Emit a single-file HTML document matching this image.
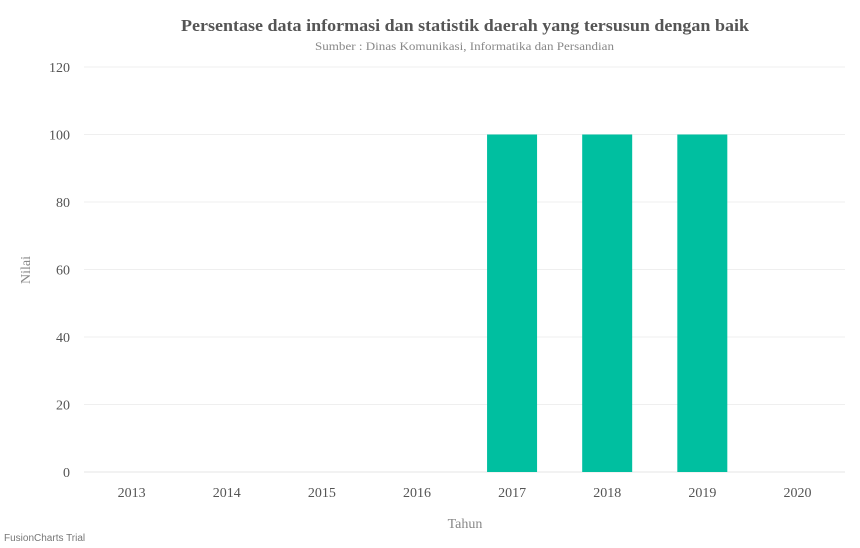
<!DOCTYPE html>
<html><head><meta charset="utf-8"><style>
body{margin:0;background:#fff;}
svg{display:block;font-family:"Liberation Serif",serif;}
</style></head><body>
<svg id="chart" width="860" height="548">
<text x="181" y="31" textLength="568" lengthAdjust="spacingAndGlyphs" font-size="17" font-weight="bold" fill="#555">Persentase data informasi dan statistik daerah yang tersusun dengan baik</text>
<text x="315" y="50" textLength="299" lengthAdjust="spacingAndGlyphs" font-size="12" fill="#888">Sumber : Dinas Komunikasi, Informatika dan Persandian</text>
<text x="465" y="528" text-anchor="middle" font-size="14" fill="#888">Tahun</text>
<text transform="translate(30,270) rotate(-90)" text-anchor="middle" font-size="14" fill="#888">Nilai</text>
<text x="4" y="541" font-family="Liberation Sans, sans-serif" font-size="10" fill="#777">FusionCharts Trial</text>
<g id="grid"></g><g id="bars"></g><g id="labels"></g>
</svg>
<script>
const categories=["2013","2014","2015","2016","2017","2018","2019","2020"];
const values=[0,0,0,0,100,100,100,0];
const yTicks=[0,20,40,60,80,100,120];
const X0=84,X1=845,Y0=472,Y1=67,YMAX=120;
const ns="http://www.w3.org/2000/svg";
const y=v=>Y0-(v/YMAX)*(Y0-Y1);
const bw=(X1-X0)/categories.length;
const xc=i=>X0+bw*(i+0.5);
const g=document.getElementById('grid'),b=document.getElementById('bars'),l=document.getElementById('labels');
yTicks.forEach(t=>{
 const ln=document.createElementNS(ns,'line');
 
 
 ln.setAttribute('x1',X0);ln.setAttribute('x2',X1);ln.setAttribute('y1',y(t));ln.setAttribute('y2',y(t));
 ln.setAttribute('stroke',t===0?'#e6e6e6':'#efefef');ln.setAttribute('stroke-width','1');
 g.appendChild(ln);
 const tx=document.createElementNS(ns,'text');
 
 
 tx.setAttribute('x',70);tx.setAttribute('y',y(t)+5);tx.setAttribute('text-anchor','end');
 tx.setAttribute('font-size','14');tx.setAttribute('fill','#555');tx.textContent=t;
 l.appendChild(tx);
});
categories.forEach((c,i)=>{
 const tx=document.createElementNS(ns,'text');
 
 
 tx.setAttribute('x',xc(i));tx.setAttribute('y',497);tx.setAttribute('text-anchor','middle');
 tx.setAttribute('font-size','14');tx.setAttribute('fill','#555');tx.textContent=c;
 l.appendChild(tx);
 if(values[i]>0){
  const r=document.createElementNS(ns,'rect');
  
  
  r.setAttribute('x',xc(i)-25);r.setAttribute('width',50);
  r.setAttribute('y',y(values[i]));r.setAttribute('height',Y0-y(values[i]));
  r.setAttribute('fill','#00bfa0');
  b.appendChild(r);
 }
});
</script>
</body></html>
